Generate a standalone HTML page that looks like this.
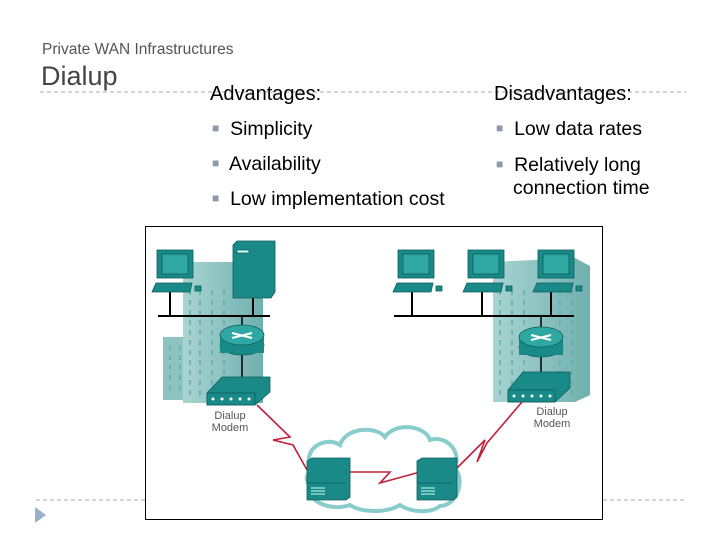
<!DOCTYPE html>
<html><head><style>
body{margin:0;width:720px;height:540px;background:#fff;position:relative;overflow:hidden;font-family:"Liberation Sans",sans-serif}
.t{position:absolute;white-space:nowrap;color:#000}
.b{color:#8a9aa8;font-size:12px;vertical-align:3px}
</style></head><body>
<svg width="720" height="540" style="position:absolute;left:0;top:0">
<defs>
<linearGradient id="bg" x1="0" x2="1"><stop offset="0" stop-color="#a8d4d2"/><stop offset="1" stop-color="#6fb0ae"/></linearGradient>
</defs>
<line x1="40" y1="92" x2="686" y2="92" stroke="#aaa" stroke-dasharray="4,3"/>
<line x1="36" y1="500" x2="686" y2="500" stroke="#aaa" stroke-dasharray="4,3"/>
<polygon points="35,507 46,515 35,523" fill="#9ab0c8"/>
<rect x="145.5" y="226.5" width="457" height="293" fill="#fff" stroke="#000"/>
<rect x="163" y="337" width="26" height="63" fill="#8fc3c1"/>
<rect x="183" y="262" width="80" height="141" fill="url(#bg)"/>
<g stroke="#6aa" stroke-width="1.5">
<line x1="190" y1="290" x2="190" y2="395" stroke-dasharray="5,5"/><line x1="200" y1="290" x2="200" y2="395" stroke-dasharray="5,5"/><line x1="212" y1="290" x2="212" y2="395" stroke-dasharray="5,5"/><line x1="224" y1="290" x2="224" y2="395" stroke-dasharray="5,5"/>
<line x1="170" y1="345" x2="170" y2="395" stroke-dasharray="5,5"/><line x1="180" y1="345" x2="180" y2="395" stroke-dasharray="5,5"/>
</g>
<polygon points="493,262 575,258 590,266 590,395 575,402 493,402" fill="url(#bg)"/>
<g stroke="#6aa" stroke-width="1.5">
<line x1="500" y1="290" x2="500" y2="395" stroke-dasharray="5,5"/><line x1="512" y1="290" x2="512" y2="395" stroke-dasharray="5,5"/><line x1="524" y1="290" x2="524" y2="395" stroke-dasharray="5,5"/><line x1="560" y1="290" x2="560" y2="395" stroke-dasharray="5,5"/><line x1="572" y1="290" x2="572" y2="395" stroke-dasharray="5,5"/>
</g>
<g stroke="#000" stroke-width="2">
<line x1="158" y1="316" x2="270" y2="316"/><line x1="170" y1="292" x2="170" y2="316"/><line x1="253" y1="298" x2="253" y2="316"/>
<line x1="394" y1="316" x2="574" y2="316"/><line x1="412" y1="292" x2="412" y2="316"/><line x1="482" y1="292" x2="482" y2="316"/><line x1="551" y1="292" x2="551" y2="316"/>
<line x1="242" y1="316" x2="242" y2="380" stroke-width="1.5"/><line x1="541" y1="316" x2="541" y2="375" stroke-width="1.5"/>
</g>
<g fill="#1a8a88" stroke="#0c5e5c" stroke-width="0.8">
<g id="pc"><rect x="157" y="250" width="36" height="28"/><rect x="162" y="254" width="26" height="20" fill="#2fa7a3"/><polygon points="152,292 156,283 192,283 190,292"/><rect x="195" y="286" width="6" height="5"/></g>
<use href="#pc" x="241"/><use href="#pc" x="311"/><use href="#pc" x="381"/>
<polygon points="233,245 237,241 275,241 275,292 271,298 233,298"/>
<rect x="237" y="250" width="12" height="3" fill="#cfe"/>
<ellipse cx="242" cy="345" rx="22" ry="10"/><rect x="220" y="335" width="44" height="18" stroke="none"/><ellipse cx="242" cy="335" rx="22" ry="10" fill="#2fa7a3"/>
<ellipse cx="541" cy="347" rx="22" ry="10"/><rect x="519" y="337" width="44" height="18" stroke="none"/><ellipse cx="541" cy="337" rx="22" ry="10" fill="#2fa7a3"/>
<polygon points="207,393 222,377 270,377 270,392 255,405 207,405"/><rect x="207" y="393" width="48" height="12"/>
<polygon points="508,390 523,372 570,372 570,388 555,402 508,402"/><rect x="508" y="390" width="47" height="12"/>
</g>
<g stroke="#fff" stroke-width="2"><line x1="232" y1="333" x2="252" y2="338"/><line x1="252" y1="333" x2="232" y2="338"/><line x1="531" y1="335" x2="551" y2="340"/><line x1="551" y1="335" x2="531" y2="340"/></g>
<g fill="#fff"><circle cx="213" cy="399" r="1.5"/><circle cx="222" cy="399" r="1.5"/><circle cx="231" cy="399" r="1.5"/><circle cx="240" cy="399" r="1.5"/><circle cx="249" cy="399" r="1.5"/>
<circle cx="514" cy="396" r="1.5"/><circle cx="523" cy="396" r="1.5"/><circle cx="532" cy="396" r="1.5"/><circle cx="541" cy="396" r="1.5"/><circle cx="550" cy="396" r="1.5"/></g>
<text x="230" y="419" font-size="11" fill="#555" text-anchor="middle" font-family="Liberation Sans">Dialup</text>
<text x="230" y="431" font-size="11" fill="#555" text-anchor="middle" font-family="Liberation Sans">Modem</text>
<text x="552" y="415" font-size="11" fill="#555" text-anchor="middle" font-family="Liberation Sans">Dialup</text>
<text x="552" y="427" font-size="11" fill="#555" text-anchor="middle" font-family="Liberation Sans">Modem</text>
<path d="M312,470 C300,450 325,435 340,445 C345,428 375,425 385,437 C395,422 425,425 430,440 C445,435 462,450 455,468 C465,480 458,505 440,506 C430,514 410,512 400,505 C385,514 360,512 350,505 C330,512 305,500 312,488 C305,482 305,475 312,470Z" fill="#fff" stroke="#8cc" stroke-width="4"/>
<g stroke="#c0203a" stroke-width="1.6" fill="none">
<polyline points="257,405 290,437 273,440 293,445 307,470"/>
<polyline points="522,402 487,443 477,462 485,440 457,468"/>
<polyline points="350,472 390,472 380,483 420,472"/>
</g>
<g fill="#1a8a88" stroke="#0c5e5c" stroke-width="0.8">
<polygon points="307,461 312,458 350,458 350,497 346,500 307,500"/><line x1="307" y1="483" x2="346" y2="483"/>
<polygon points="417,461 422,458 457,458 457,497 453,500 417,500"/><line x1="417" y1="483" x2="453" y2="483"/>
</g>
<g stroke="#cfe" stroke-width="1"><line x1="311" y1="488" x2="325" y2="488"/><line x1="311" y1="491" x2="325" y2="491"/><line x1="311" y1="494" x2="325" y2="494"/><line x1="421" y1="488" x2="435" y2="488"/><line x1="421" y1="491" x2="435" y2="491"/><line x1="421" y1="494" x2="435" y2="494"/></g>
</svg>
<div class="t" style="left:42px;top:41px;font-size:15.5px;color:#555">Private WAN Infrastructures</div>
<div class="t" style="left:41px;top:61px;font-size:27px;color:#444">Dialup</div>
<div class="t" style="left:210px;top:83px;font-size:20px">Advantages:</div>
<div class="t" style="left:494px;top:83px;font-size:20px">Disadvantages:</div>
<div class="t" style="left:212px;top:118px;font-size:19.5px"><span class="b">■</span>&nbsp; Simplicity</div>
<div class="t" style="left:212px;top:153px;font-size:19.5px"><span class="b">■</span>&nbsp; Availability</div>
<div class="t" style="left:212px;top:188px;font-size:19.5px"><span class="b">■</span>&nbsp; Low implementation cost</div>
<div class="t" style="left:496px;top:118px;font-size:19.5px"><span class="b">■</span>&nbsp; Low data rates</div>
<div class="t" style="left:496px;top:153px;font-size:19.5px;line-height:23px"><span class="b">■</span>&nbsp; Relatively long<br><span style="padding-left:17px">connection time</span></div>
</body></html>
